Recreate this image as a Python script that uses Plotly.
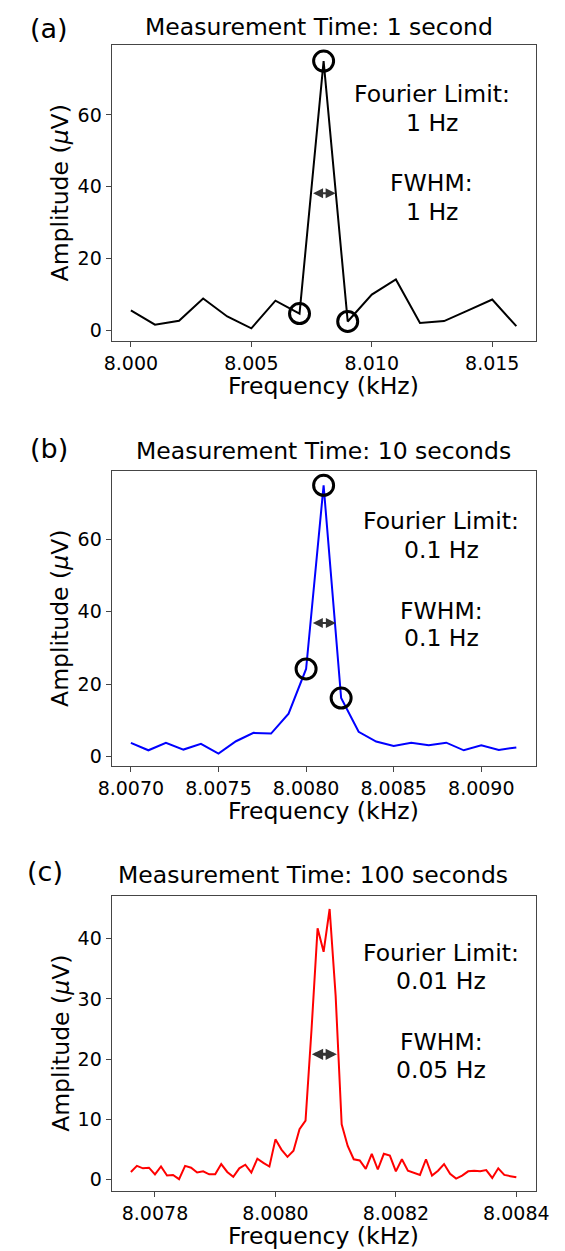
import plotly.graph_objects as go

# ---------------- data ----------------
a_freq = [8.000, 8.001, 8.002, 8.003, 8.004, 8.005, 8.006, 8.007, 8.008,
          8.009, 8.010, 8.011, 8.012, 8.013, 8.014, 8.015, 8.016]
a_amp = [5.6, 1.6, 2.7, 8.9, 3.9, 0.6, 8.3, 4.7, 75.0,
         2.5, 10.0, 14.2, 2.1, 2.6, 5.6, 8.6, 1.2]
a_marked = [7, 8, 9]

b_freq = [8.0070, 8.0071, 8.0072, 8.0073, 8.0074, 8.0075, 8.0076, 8.0077,
          8.0078, 8.0079, 8.0080, 8.0081, 8.0082, 8.0083, 8.0084, 8.0085,
          8.0086, 8.0087, 8.0088, 8.0089, 8.0090, 8.0091, 8.0092]
b_amp = [3.85, 1.8, 3.85, 2.0, 3.6, 0.9, 4.3, 6.6,
         6.4, 11.9, 24.2, 74.8, 16.2, 6.9, 4.2, 3.0,
         3.9, 3.2, 3.9, 1.8, 3.2, 1.9, 2.6]
b_marked = [10, 11, 12]

c_freq = [8.00776, 8.00777, 8.00778, 8.00779, 8.00780, 8.00781, 8.00782,
          8.00783, 8.00784, 8.00785, 8.00786, 8.00787, 8.00788, 8.00789,
          8.00790, 8.00791, 8.00792, 8.00793, 8.00794, 8.00795, 8.00796,
          8.00797, 8.00798, 8.00799, 8.00800, 8.00801, 8.00802, 8.00803,
          8.00804, 8.00805, 8.00806, 8.00807, 8.00808, 8.00809, 8.00810,
          8.00811, 8.00812, 8.00813, 8.00814, 8.00815, 8.00816, 8.00817,
          8.00818, 8.00819, 8.00820, 8.00821, 8.00822, 8.00823, 8.00824,
          8.00825, 8.00826, 8.00827, 8.00828, 8.00829, 8.00830, 8.00831,
          8.00832, 8.00833, 8.00834, 8.00835, 8.00836, 8.00837, 8.00838,
          8.00839, 8.00840]
c_amp = [1.3, 2.3, 1.9, 2.0, 0.9, 2.2, 0.7, 0.8, 0.1, 2.3,
         2.0, 1.2, 1.4, 0.9, 0.9, 2.6, 1.3, 0.5, 1.9, 2.5,
         1.2, 3.5, 2.8, 2.2, 6.7, 5.0, 3.8, 4.8, 8.4, 9.8,
         25.0, 41.7, 37.8, 44.9, 30.5, 9.2, 5.6, 3.4, 3.2, 1.8,
         4.3, 1.7, 4.3, 4.0, 1.4, 3.4, 1.5, 1.2, 0.8, 3.4,
         0.7, 1.5, 2.6, 1.0, 0.2, 0.7, 1.4, 1.5, 1.4, 1.6,
         0.3, 1.9, 0.8, 0.6, 0.4]

# FWHM arrows (x start, x end, height)
a_arrow = [8.0075, 8.0085, 38.2]
b_arrow = [8.00803, 8.00817, 36.9]
c_arrow = [8.008058, 8.008102, 20.8]

titles = ["Measurement Time: 1 second", "Measurement Time: 10 seconds",
          "Measurement Time: 100 seconds"]
panel_labels = ["(a)", "(b)", "(c)"]
fourier_limits = ["1 Hz", "0.1 Hz", "0.01 Hz"]
fwhms = ["1 Hz", "0.1 Hz", "0.05 Hz"]

a_xticks = [8.000, 8.005, 8.010, 8.015]
b_xticks = [8.0070, 8.0075, 8.0080, 8.0085, 8.0090]
c_xticks = [8.0078, 8.0080, 8.0082, 8.0084]
a_yticks = [0, 20, 40, 60]
b_yticks = [0, 20, 40, 60]
c_yticks = [0, 10, 20, 30, 40]

# ---------------- figure ----------------
W, H = 565, 1251
FONT = "DejaVu Sans"
AX = "#454545"
FS = 23.5


def px(x):
    return x / W


def py(y):
    return 1 - y / H


fig = go.Figure()

panels = [
    dict(freq=a_freq, amp=a_amp, marked=a_marked, color="black", arrow=a_arrow, aw=2, asz=1.0),
    dict(freq=b_freq, amp=b_amp, marked=b_marked, color="#0000ff", arrow=b_arrow, aw=2, asz=1.0),
    dict(freq=c_freq, amp=c_amp, marked=None, color="#ff0000", arrow=c_arrow, aw=3, asz=0.75),
]
suffix = ["", "2", "3"]
for p, s in zip(panels, suffix):
    fig.add_trace(go.Scatter(x=p["freq"], y=p["amp"], mode="lines",
                             line=dict(color=p["color"], width=2),
                             xaxis="x" + s, yaxis="y" + s, showlegend=False,
                             hoverinfo="skip"))
    if p["marked"]:
        fig.add_trace(go.Scatter(x=[p["freq"][i] for i in p["marked"]],
                                 y=[p["amp"][i] for i in p["marked"]],
                                 mode="markers",
                                 marker=dict(symbol="circle-open", size=20, color="black",
                                             line=dict(width=3, color="black")),
                                 xaxis="x" + s, yaxis="y" + s, showlegend=False,
                                 hoverinfo="skip"))

xdom = [px(102.7), px(548.8)]
ydoms = [[py(341.7), py(45.0)], [py(766.7), py(471.7)], [py(1192.3), py(896.7)]]
xranges = [[7.9992, 8.0168], [8.00689, 8.00931], [8.007728, 8.008432]]
yranges = [[-3.06, 79.5], [-2.55, 78.65], [-1.92, 47.06]]
xticks = [a_xticks, b_xticks, c_xticks]
yticks = [a_yticks, b_yticks, c_yticks]
xfmt = [".3f", ".4f", ".4f"]

axis_common = dict(showgrid=False, zeroline=False, showline=True, mirror=True,
                   linecolor=AX, linewidth=1, ticks="outside", ticklen=5,
                   tickwidth=1, tickcolor=AX,
                   tickfont=dict(family=FONT, size=19, color="black"))
layout = dict(width=W, height=H, margin=dict(l=0, r=0, t=0, b=0),
              paper_bgcolor="white", plot_bgcolor="white", showlegend=False)
for k, s in enumerate(suffix):
    layout["xaxis" + s] = dict(domain=xdom, range=xranges[k], anchor="y" + s,
                               tickvals=xticks[k], tickformat=xfmt[k], **axis_common)
    layout["yaxis" + s] = dict(domain=ydoms[k], range=yranges[k], anchor="x" + s,
                               tickvals=yticks[k], **axis_common)
fig.update_layout(**layout)

ann = []


def text(x, y, t, size=FS, xanchor="center", angle=0):
    ann.append(dict(x=px(x), y=py(y), xref="paper", yref="paper", text=t,
                    showarrow=False, xanchor=xanchor, yanchor="middle",
                    textangle=angle,
                    font=dict(family=FONT, size=size, color="black")))


label_pos = [(14.4, 29.0), (14.4, 449.0), (12.0, 871.7)]
title_pos = [(320.4, 27.0), (326.1, 451.7), (314.2, 875.3)]
ytitle_y = [193.4, 619.2, 1044.5]
xtitle_y = [386.3, 811.3, 1237.3]
text_x = [439.6, 449.5, 449.5]
text_y = [(94.5, 123.3, 183.3, 211.7), (521.7, 550.5, 611.2, 638.8),
          (953.3, 982.2, 1042.5, 1070.5)]

for k in range(3):
    text(label_pos[k][0], label_pos[k][1], panel_labels[k], size=27, xanchor="left")
    text(title_pos[k][0], title_pos[k][1], titles[k])
    text(48.6, ytitle_y[k], "Amplitude (<i>μ</i>V)", angle=-90)
    text(325.2, xtitle_y[k], "Frequency (kHz)")
    ty = text_y[k]
    text(text_x[k], ty[0], "Fourier Limit:")
    text(text_x[k], ty[1], fourier_limits[k])
    text(text_x[k], ty[2], "FWHM:")
    text(text_x[k], ty[3], fwhms[k])

for p, s in zip(panels, suffix):
    x0, x1, yy = p["arrow"]
    ann.append(dict(x=x1, y=yy, ax=x0, ay=yy, xref="x" + s, yref="y" + s,
                    axref="x" + s, ayref="y" + s, text="", showarrow=True,
                    arrowhead=2, startarrowhead=2, arrowside="end+start",
                    arrowsize=p["asz"], startarrowsize=p["asz"], arrowwidth=p["aw"],
                    arrowcolor="#333333", standoff=0, startstandoff=0))

fig.update_layout(annotations=ann)
fig.write_html("out.html")
